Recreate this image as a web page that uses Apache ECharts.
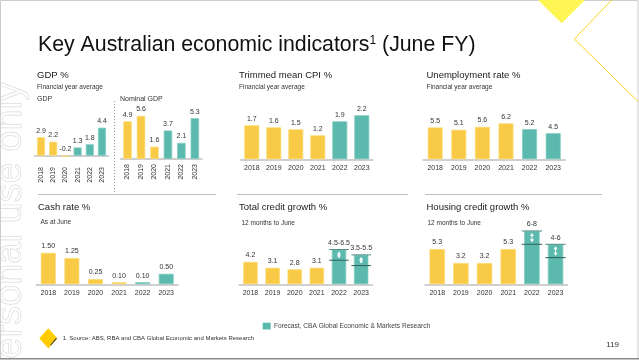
<!DOCTYPE html>
<html>
<head>
<meta charset="utf-8">
<script src="https://cdn.jsdelivr.net/npm/echarts@6/dist/echarts.min.js"></script>
<style>
html,body{margin:0;padding:0;background:#fff;}
#c{width:639px;height:360px;}
</style>
</head>
<body>
<div id="c"></div>
<script>
// ---- data ----
const years = ['2018', '2019', '2020', '2021', '2022', '2023'];
const gdp = [2.9, 2.2, -0.2, 1.3, 1.8, 4.4];
const gdpForecast = [0, 0, 0, 1, 1, 1];
const nominalGdp = [4.9, 5.6, 1.6, 3.7, 2.1, 5.3];
const nominalGdpForecast = [0, 0, 0, 1, 1, 1];
const cpi = [1.7, 1.6, 1.5, 1.2, 1.9, 2.2];
const unemployment = [5.5, 5.1, 5.6, 6.2, 5.2, 4.5];
const cashRate = [1.50, 1.25, 0.25, 0.10, 0.10, 0.50];
const totalCredit = [4.2, 3.1, 2.8, 3.1, 6.5, 5.5];
const totalCreditLow = [null, null, null, null, 4.5, 3.5];
const housingCredit = [5.3, 3.2, 3.2, 5.3, 8, 6];
const housingCreditLow = [null, null, null, null, 6, 4];
const stdForecast = [0, 0, 0, 0, 1, 1];

const FONT = '"Liberation Sans", Arial, Helvetica, sans-serif';
const YELLOW = '#F8CA45', YELLOW_B = '#FBDC7A';
const TEAL = '#5BB9AD', TEAL_B = '#86CDC3';

const chart = echarts.init(document.getElementById('c'), null, {renderer: 'canvas'});

const panels = [
  {vals: gdp, fc: gdpForecast, low: null, dec: 1, left: 34.9, width: 73.2, top: 123.9, height: 38.16, min: -1, max: 5, bw: 8, rot: 90},
  {vals: nominalGdp, fc: nominalGdpForecast, low: null, dec: 1, left: 120.8, width: 80.8, top: 105.1, height: 53.9, min: 0, max: 7, bw: 8.5, rot: 90},
  {vals: cpi, fc: stdForecast, low: null, dec: 1, left: 240.8, width: 132, top: 99.3, height: 60, min: 0, max: 3, bw: 15, rot: 0},
  {vals: unemployment, fc: stdForecast, low: null, dec: 1, left: 423.4, width: 141.6, top: 112.9, height: 46.4, min: 0, max: 8, bw: 15, rot: 0},
  {vals: cashRate, fc: stdForecast, low: null, dec: 2, left: 36.5, width: 141.5, top: 242.3, height: 42, min: 0, max: 2, bw: 15, rot: 0},
  {vals: totalCredit, fc: stdForecast, low: totalCreditLow, dec: 1, left: 239.4, width: 132.8, top: 241.5, height: 42.8, min: 0, max: 8, bw: 14.5, rot: 0},
  {vals: housingCredit, fc: stdForecast, low: housingCreditLow, dec: 1, left: 425.4, width: 142, top: 224.3, height: 60, min: 0, max: 9, bw: 15.5, rot: 0}
];

const grids = [], xAxes = [], yAxes = [], series = [];
panels.forEach((p, i) => {
  grids.push({left: p.left, top: p.top, width: p.width, height: p.height, outerBoundsMode: 'none', containLabel: false});
  xAxes.push({
    type: 'category', gridIndex: i, data: years, boundaryGap: true,
    axisLine: {show: true, onZero: true, lineStyle: {color: '#cfcfcf', width: 2}},
    axisTick: {show: false},
    axisLabel: {interval: 0, fontSize: 7, color: '#333', fontFamily: FONT, margin: 5, rotate: p.rot},
    splitLine: {show: false}
  });
  yAxes.push({type: 'value', gridIndex: i, min: p.min, max: p.max, show: false, splitLine: {show: false}});
  series.push({
    type: 'bar', xAxisIndex: i, yAxisIndex: i, barWidth: p.bw, silent: true,
    data: p.vals.map((v, k) => ({
      value: v,
      itemStyle: {color: p.fc[k] ? TEAL : YELLOW, borderColor: p.fc[k] ? TEAL_B : YELLOW_B, borderWidth: 0.8}
    })),
    label: {
      show: true, position: 'top', distance: 3, fontSize: 7, color: '#333', fontFamily: FONT,
      formatter: (prm) => {
        const lo = p.low ? p.low[prm.dataIndex] : null;
        if (lo != null) return String(lo) + '-' + String(prm.value);
        return Number(prm.value).toFixed(p.dec);
      }
    }
  });
  if (p.low) {
    const half = p.bw / 2 + 2.5;
    const rangeData = [];
    p.low.forEach((lo, k) => { if (lo != null) rangeData.push([k, lo, p.vals[k]]); });
    series.push({
      type: 'custom', xAxisIndex: i, yAxisIndex: i, silent: true, z: 5,
      encode: {x: 0, y: [1, 2]},
      data: rangeData,
      renderItem: (params, api) => {
        const k = api.value(0), lo = api.value(1), hi = api.value(2);
        const pH = api.coord([k, hi]), pL = api.coord([k, lo]);
        const cx = pH[0], yt = pH[1], yb = pL[1];
        return {
          type: 'group',
          children: [
            {type: 'line', shape: {x1: cx - half, y1: yt, x2: cx + half, y2: yt}, style: {stroke: '#4f8a82', lineWidth: 1}},
            {type: 'line', shape: {x1: cx - half, y1: yb, x2: cx + half, y2: yb}, style: {stroke: '#2f5f59', lineWidth: 1}},
            {type: 'line', shape: {x1: cx, y1: yt + 3, x2: cx, y2: yb - 3}, style: {stroke: '#fff', lineWidth: 1}},
            {type: 'polygon', shape: {points: [[cx - 2, yt + 5], [cx + 2, yt + 5], [cx, yt + 2]]}, style: {fill: '#fff'}},
            {type: 'polygon', shape: {points: [[cx - 2, yb - 5], [cx + 2, yb - 5], [cx, yb - 2]]}, style: {fill: '#fff'}}
          ]
        };
      }
    });
  }
});

function txt(x, y, text, size, color, extra) {
  return Object.assign({
    type: 'text', x: x, y: y, silent: true,
    style: Object.assign({text: text, fontSize: size, fontFamily: FONT, fill: color,
      align: 'left', textAlign: 'left', verticalAlign: 'middle', textVerticalAlign: 'middle'}, extra || {})
  });
}

const graphics = [
  // frame
  {type: 'rect', shape: {x: 0.5, y: 0.5, width: 637.5, height: 358}, style: {fill: 'none', stroke: '#cccccc', lineWidth: 1}, silent: true},
  {type: 'line', shape: {x1: 0, y1: 358.8, x2: 639, y2: 358.8}, style: {stroke: '#8a8a8a', lineWidth: 1.6}, silent: true},
  // watermark
  {type: 'text', x: 11, y: 82, rotation: Math.PI / 2, silent: true, z: -10,
   style: {text: 'personal use only', fontSize: 38, fontFamily: FONT, fill: 'rgba(0,0,0,0)', stroke: '#dcdcdc', lineWidth: 0.7,
     align: 'right', textAlign: 'right', verticalAlign: 'middle', textVerticalAlign: 'middle'}},
  // top-right decoration
  {type: 'polygon', shape: {points: [[538, 0], [585, 0], [561.7, 23.3]]}, style: {fill: '#FFF654'}, silent: true},
  {type: 'polyline', shape: {points: [[611.7, 0], [574.3, 39], [638.3, 101.7]]}, style: {stroke: '#FFD21F', lineWidth: 1, fill: 'none'}, silent: true},
  // title
  {type: 'text', x: 38, y: 45, silent: true,
   style: {text: 'Key Australian economic indicators{s|1} (June FY)', fontSize: 21.3, fontFamily: FONT, fill: '#111',
     align: 'left', textAlign: 'left', verticalAlign: 'middle', textVerticalAlign: 'middle',
     rich: {s: {fontSize: 12, fontFamily: FONT, fill: '#111', verticalAlign: 'top'}}}},
  // panel titles
  txt(37, 75, 'GDP %', 9.5, '#1a1a1a'),
  txt(37, 87, 'Financial year average', 6.5, '#333'),
  txt(37, 99, 'GDP', 7, '#333'),
  txt(120, 99, 'Nominal GDP', 7, '#333'),
  txt(239, 75, 'Trimmed mean CPI %', 9.5, '#1a1a1a'),
  txt(239, 87, 'Financial year average', 6.5, '#333'),
  txt(426.5, 75, 'Unemployment rate %', 9.5, '#1a1a1a'),
  txt(426.5, 87, 'Financial year average', 6.5, '#333'),
  txt(38, 207, 'Cash rate %', 9.5, '#1a1a1a'),
  txt(40.5, 222.5, 'As at June', 6.5, '#333'),
  txt(239, 207, 'Total credit growth %', 9.5, '#1a1a1a'),
  txt(241.5, 223, '12 months to June', 6.5, '#333'),
  txt(426.5, 207, 'Housing credit growth %', 9.5, '#1a1a1a'),
  txt(427.5, 223, '12 months to June', 6.5, '#333'),
  // separators
  {type: 'line', shape: {x1: 114.5, y1: 101, x2: 114.5, y2: 193}, style: {stroke: '#9a9a9a', lineWidth: 1, lineDash: [1, 2]}, silent: true},
  {type: 'line', shape: {x1: 38, y1: 194.5, x2: 216, y2: 194.5}, style: {stroke: '#bdbdbd', lineWidth: 1}, silent: true},
  {type: 'line', shape: {x1: 237, y1: 194.5, x2: 408, y2: 194.5}, style: {stroke: '#bdbdbd', lineWidth: 1}, silent: true},
  {type: 'line', shape: {x1: 425, y1: 194.5, x2: 602, y2: 194.5}, style: {stroke: '#bdbdbd', lineWidth: 1}, silent: true},
  // legend
  {type: 'rect', shape: {x: 262.7, y: 322.7, width: 8, height: 6.8}, style: {fill: TEAL}, silent: true},
  txt(274, 326.2, 'Forecast, CBA Global Economic & Markets Research', 6.6, '#444'),
  // logo
  {type: 'polygon', shape: {points: [[48.3, 328.3], [57.3, 338.3], [48.3, 348.5], [39.3, 338.3]]}, style: {fill: '#FFCC00'}, silent: true},
  {type: 'polygon', shape: {points: [[57.3, 338.3], [50.5, 346], [50.8, 344.2], [55.6, 338.6]]}, style: {fill: '#3a3a3a'}, silent: true},
  // footnote & page number
  txt(62.7, 338.3, '1. Source: ABS, RBA and CBA Global Economic and Markets Research', 6, '#333'),
  txt(619, 345, '119', 8, '#333', {align: 'right', textAlign: 'right'})
];

chart.setOption({
  animation: false,
  textStyle: {fontFamily: FONT},
  grid: grids,
  xAxis: xAxes,
  yAxis: yAxes,
  series: series,
  graphic: {elements: graphics}
});
</script>
</body>
</html>
